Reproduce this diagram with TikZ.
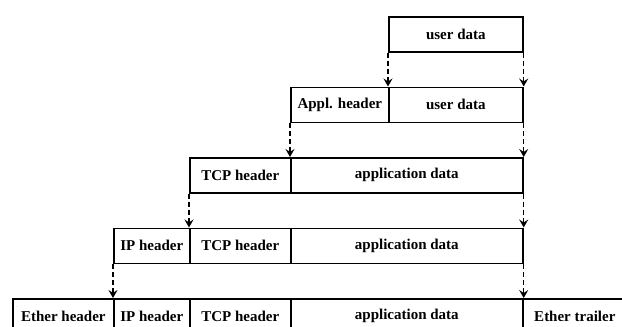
\documentclass[tikz,border=0pt]{standalone}
\usepackage{fontspec}
\setmainfont{Liberation Serif}
\usetikzlibrary{arrows.meta}
\begin{document}
\begin{tikzpicture}[x=1pt,y=-1pt,
  cell/.style={draw=black,line width=1.7pt,inner sep=0pt,minimum height=35pt,
    font=\fontsize{15}{16}\selectfont\bfseries,anchor=north west},
  down/.style={line width=1.5pt,dash pattern=on 5pt off 3pt,
    -{Stealth[length=8pt,width=9pt,inset=3pt]}}]
\useasboundingbox (0,0) rectangle (622,327);
\clip (0,0) rectangle (622,327);
% row 1
\node[cell,minimum width=134pt] (u1) at (388,16) {user data};
% row 2
\node[cell,minimum width=98pt] (a2) at (290,86.5) {Appl. header};
\node[cell,minimum width=134pt] (u2) at (388,86.5) {user data};
% row 3
\node[cell,minimum width=101pt] (t3) at (189,157) {TCP header};
\node[cell,minimum width=232pt] (d3) at (290,157) {application data};
% row 4
\node[cell,minimum width=76pt] (i4) at (113,227.5) {IP header};
\node[cell,minimum width=101pt] (t4) at (189,227.5) {TCP header};
\node[cell,minimum width=232pt] (d4) at (290,227.5) {application data};
% row 5
\node[cell,minimum width=101pt] (e5) at (12,298) {Ether header};
\node[cell,minimum width=76pt] (i5) at (113,298) {IP header};
\node[cell,minimum width=101pt] (t5) at (189,298) {TCP header};
\node[cell,minimum width=232pt] (d5) at (290,298) {application data};
\node[cell,minimum width=104pt] (r5) at (522,298) {Ether trailer};
% arrows
\draw[down] (u1.south west) -- (u2.north west);
\draw[down] (u1.south east) -- (u2.north east);
\draw[down] (a2.south west) -- (d3.north west);
\draw[down] (u2.south east) -- (d3.north east);
\draw[down] (t3.south west) -- (t4.north west);
\draw[down] (d3.south east) -- (d4.north east);
\draw[down] (i4.south west) -- (i5.north west);
\draw[down] (d4.south east) -- (d5.north east);
\end{tikzpicture}
\end{document}
